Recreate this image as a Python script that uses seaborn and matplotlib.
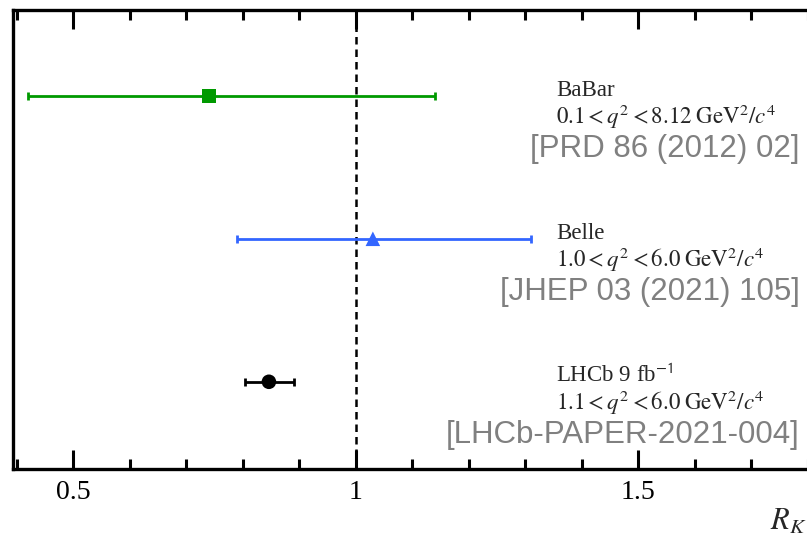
import matplotlib
matplotlib.use("Agg")
import matplotlib.pyplot as plt
from matplotlib.ticker import MultipleLocator, FuncFormatter
import seaborn as sns
import pandas as pd

# values
experiments = ["BaBar", "Belle", "LHCb"]
central = [0.74, 1.03, 0.846]
err_lo = [0.32, 0.24, 0.043]
err_hi = [0.40, 0.28, 0.044]
ypos = [3, 2, 1]
names = ["BaBar", "Belle", r"LHCb 9 fb$^{\mathsf{-1}}$"]
q2_ranges = [r"$0.1 < q^2 < 8.12\;\mathrm{GeV}^2/c^4$",
             r"$1.0 < q^2 < 6.0\;\mathrm{GeV}^2/c^4$",
             r"$1.1 < q^2 < 6.0\;\mathrm{GeV}^2/c^4$"]
refs = ["[PRD 86 (2012) 02]", "[JHEP 03 (2021) 105]", "[LHCb-PAPER-2021-004]"]

colors = {"BaBar": "#009900", "Belle": "#3366ff", "LHCb": "#000000"}
markers = {"BaBar": "s", "Belle": "^", "LHCb": "o"}

sns.set_theme(style="ticks")
plt.rcParams["font.family"] = ["Liberation Serif", "DejaVu Serif"]
plt.rcParams["mathtext.fontset"] = "stix"

df = pd.DataFrame({"exp": experiments, "x": central, "y": ypos})

fig = plt.figure(figsize=(8.07, 5.37), dpi=100)
ax = fig.add_axes([0.0161, 0.1266, 1.055, 0.8548])

# error bars
for i, e in enumerate(experiments):
    ax.errorbar(central[i], ypos[i], xerr=[[err_lo[i]], [err_hi[i]]],
                fmt="none", ecolor=colors[e], elinewidth=2.0,
                capsize=3.2, capthick=2.0, zorder=2)

# central values
sns.scatterplot(data=df, x="x", y="y", hue="exp", style="exp",
                palette=colors, markers=markers, s=110, linewidth=0,
                legend=False, ax=ax, zorder=3)

ax.axvline(1.0, color="black", linestyle=(0, (3, 2)), linewidth=1.8, zorder=1)

ax.set_xlim(0.393, 1.9)
ax.set_ylim(0.39, 3.6)
ax.set_xlabel("")
ax.set_ylabel("")
ax.set_yticks([])

ax.xaxis.set_major_locator(MultipleLocator(0.5))
ax.xaxis.set_minor_locator(MultipleLocator(0.1))
ax.xaxis.set_major_formatter(FuncFormatter(lambda v, p: "%g" % v))
ax.tick_params(axis="x", which="both", direction="in", top=True,
               bottom=True, width=2.2, labelsize=20, pad=8, colors="black")
ax.tick_params(axis="x", which="major", length=14)
ax.tick_params(axis="x", which="minor", length=7)
for s in ax.spines.values():
    s.set_linewidth(2.4)
    s.set_color("black")
    s.set_visible(True)

# annotations
for i in range(len(experiments)):
    y = ypos[i]
    ax.text(1.355, y, names[i], fontsize=16.5, ha="left", va="baseline")
    ax.text(1.355, y - 0.2, q2_ranges[i], fontsize=16.5, ha="left", va="baseline")
    ax.text(1.786, y - 0.43, refs[i], fontsize=22.5, ha="right", va="baseline",
            color="#808080", family=["Liberation Sans", "DejaVu Sans"])

fig.text(0.954, 0.013, r"$R_K$", fontsize=22, ha="left", va="baseline")

fig.savefig("out.png", dpi=100)
